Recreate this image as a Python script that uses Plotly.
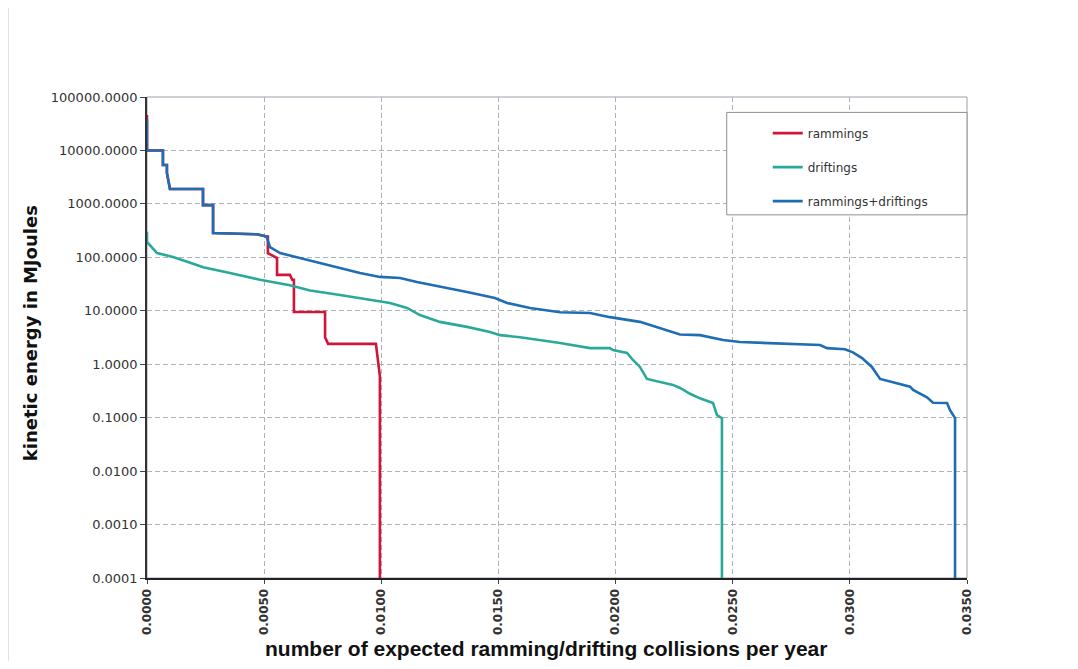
import plotly.graph_objects as go

# ---- data (x: collisions per year, y: energy MJ) ----
combined_x = [0.0, 0.0, 0.00068, 0.00068, 0.00085, 0.00085, 0.00098, 0.00239, 0.00239,
              0.00282, 0.00282, 0.0047, 0.0051, 0.00516, 0.00525, 0.00568, 0.00653, 0.00738,
              0.00824, 0.00909, 0.00994, 0.0108, 0.01152, 0.0122, 0.01366, 0.01485, 0.01537,
              0.01635, 0.01763, 0.01891, 0.01976, 0.02104, 0.0219, 0.02275, 0.0236, 0.02459,
              0.02531, 0.02629, 0.02873, 0.02902, 0.02979, 0.03013, 0.03052, 0.03094, 0.03129,
              0.03184, 0.03257, 0.0327, 0.03329, 0.03355, 0.03415, 0.03427, 0.03449, 0.03449]
combined_y = [37000, 10000, 10000, 5350, 5350, 3790, 1900, 1900, 950,
              950, 285, 270, 245, 200, 156, 120, 97, 78,
              63, 51, 43, 41, 34.5, 30.3, 22.4, 17.3, 14.0,
              11.3, 9.4, 9.1, 7.6, 6.2, 4.7, 3.6, 3.5, 2.84,
              2.6, 2.49, 2.29, 2.0, 1.9, 1.67, 1.3, 0.89, 0.53,
              0.46, 0.38, 0.33, 0.24, 0.19, 0.188, 0.139, 0.098, 0.0001]

ramming_x = [0.0, 0.0, 0.00068, 0.00068, 0.00085, 0.00085, 0.00098, 0.00239, 0.00239,
             0.00282, 0.00282, 0.0047, 0.0051, 0.00516, 0.00516, 0.00555, 0.00555, 0.0057,
             0.0061, 0.0062, 0.00627, 0.00627, 0.0076, 0.0076, 0.00773, 0.00977, 0.0099,
             0.00994, 0.00994]
ramming_y = [46000, 10000, 10000, 5350, 5350, 3790, 1900, 1900, 950,
             950, 285, 270, 245, 245, 120, 97, 47, 47,
             47, 38, 38, 9.5, 9.5, 3.2, 2.4, 2.4, 0.71,
             0.6, 0.0001]

drifting_x = [0.0, 0.0, 0.00043, 0.00111, 0.00175, 0.0024, 0.00354, 0.00482, 0.0061,
              0.00696, 0.00824, 0.00952, 0.01037, 0.0111, 0.01165, 0.0125, 0.01366,
              0.01464, 0.01507, 0.01592, 0.01763, 0.01891, 0.01976, 0.01989, 0.02049,
              0.02074, 0.02104, 0.02134, 0.0219, 0.02245, 0.02275, 0.02318, 0.0236,
              0.02416, 0.02433, 0.02454, 0.02454]
drifting_y = [300, 194, 120, 101, 82, 65, 51, 38, 30,
              24, 19.7, 16, 14, 11.3, 8.3, 6.2, 5.0,
              4.0, 3.5, 3.2, 2.5, 2.0, 2.0, 1.84, 1.62,
              1.2, 0.89, 0.53, 0.46, 0.41, 0.36, 0.28, 0.23,
              0.188, 0.112, 0.098, 0.0001]

series_names = ["rammings", "driftings", "rammings+driftings"]
series_colors = ["#cf1538", "#2aa99b", "#1f6db3"]

y_tick_vals = [0.0001, 0.001, 0.01, 0.1, 1, 10, 100, 1000, 10000, 100000]
y_tick_text = ["0.0001", "0.0010", "0.0100", "0.1000", "1.0000", "10.0000",
               "100.0000", "1000.0000", "10000.0000", "100000.0000"]
x_tick_vals = [0.0, 0.005, 0.01, 0.015, 0.02, 0.025, 0.03, 0.035]
x_tick_text = ["0.0000", "0.0050", "0.0100", "0.0150", "0.0200", "0.0250", "0.0300", "0.0350"]

fig = go.Figure()
for name, xs, ys, col in zip(series_names,
                             [ramming_x, drifting_x, combined_x],
                             [ramming_y, drifting_y, combined_y],
                             series_colors):
    fig.add_trace(go.Scatter(x=xs, y=ys, mode="lines", name=name, legendgroup=name,
                             line=dict(color=col, width=2.6)))

grid = dict(gridcolor="#aeb3ba", griddash="5px,3px", gridwidth=1)

# the page body adds an 8px offset, so margins are compensated
fig.update_layout(
    width=1062, height=653,
    margin=dict(l=139, r=103, t=89, b=83, autoexpand=False),
    paper_bgcolor="white", plot_bgcolor="white",
    font=dict(family="Arial, Liberation Sans, sans-serif", color="#222"),
    showlegend=True,
    legend=dict(x=0.757, y=0.955, xanchor="left", yanchor="top",
                bgcolor="rgba(0,0,0,0)", borderwidth=0,
                font=dict(size=12, color="#333", family="DejaVu Sans, sans-serif"),
                traceorder="grouped", tracegroupgap=15),
    xaxis=dict(range=[0, 0.035], tickvals=x_tick_vals, ticktext=x_tick_text,
               tickangle=-90,
               tickfont=dict(size=12, color="#333", family="DejaVu Sans, sans-serif", weight="bold"),
               showline=True, linecolor="#222", linewidth=2, mirror=False,
               ticks="outside", ticklen=4, tickcolor="#444", automargin=False,
               zeroline=False, **grid),
    yaxis=dict(type="log", range=[-4, 5], tickvals=y_tick_vals, ticktext=y_tick_text,
               tickfont=dict(size=13, color="#333", family="DejaVu Sans, sans-serif"),
               showline=True, linecolor="#333", linewidth=1.5,
               ticks="outside", ticklen=5, tickcolor="#444", automargin=False,
               zeroline=False, **grid),
)

# axis titles
fig.add_annotation(text="number of expected ramming/drifting collisions per year",
                   xref="paper", yref="paper", x=0.4866, y=-0.146,
                   xanchor="center", yanchor="middle", showarrow=False,
                   font=dict(size=21, color="#111", family="Liberation Sans Narrow, Arial Narrow, sans-serif",
                             weight="bold"))
fig.add_annotation(text="kinetic energy in MJoules", textangle=-90,
                   xref="paper", yref="paper", x=-0.1427, y=0.509,
                   xanchor="center", yanchor="middle", showarrow=False,
                   font=dict(size=18, color="#111", family="DejaVu Sans, sans-serif", weight="bold"))

# plot-area frame (top/right) and opaque legend box (covers the grid; legend draws above it)
fig.add_shape(type="rect", xref="paper", yref="paper", x0=0, x1=1, y0=0, y1=1,
              line=dict(color="#9aa0a8", width=1), layer="below")
fig.add_shape(type="rect", xref="paper", yref="paper", x0=0.707, x1=1.0, y0=0.755, y1=0.968,
              line=dict(color="#8a8f96", width=1), fillcolor="white", layer="above")
# scanned page edge
fig.add_shape(type="line", xref="paper", yref="paper", x0=-0.1695, x1=-0.1695, y0=-0.2, y1=1.2,
              line=dict(color="#c8c8c8", width=1))

fig.write_html("out.html")
